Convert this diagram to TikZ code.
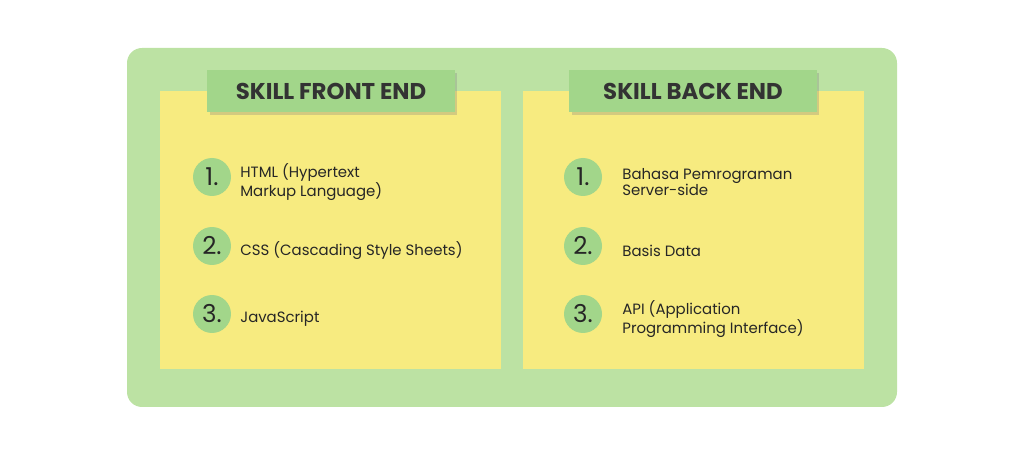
\documentclass[tikz,border=0pt]{standalone}
\usepackage{fontspec}
\setmainfont{Poppins}
\usetikzlibrary{positioning,shadows}
\definecolor{outergreen}{HTML}{BCE2A3}
\definecolor{headgreen}{HTML}{A2D68A}
\definecolor{noteyellow}{HTML}{F7EB80}
\definecolor{inkdark}{HTML}{333333}

\begin{document}
\begin{tikzpicture}[
    x=0.02cm, y=-0.02cm,
    panel/.style={fill=noteyellow, draw=none},
    header/.style={rectangle, fill=headgreen, minimum width=4.96cm, minimum height=0.84cm, font=\fontsize{13}{15}\selectfont\bfseries, text=inkdark, drop shadow={opacity=0.3, shadow xshift=0.05cm, shadow yshift=-0.06cm}},
    num/.style={circle, fill=headgreen, minimum size=0.76cm, inner sep=0pt, font=\fontsize{14}{16}\selectfont, text=black!85},
    item/.style={anchor=west, inner sep=0pt, yshift=-0.1cm, align=left, font=\fontsize{8.5}{9.6}\selectfont, text=black!85}
]
\useasboundingbox (0,0) rectangle (1024,455);
% background
\fill[outergreen, rounded corners=0.3cm] (127,48) rectangle (897,407);

% panels
\fill[panel] (160,91) rectangle (501,369);
\fill[panel] (523,91) rectangle (864,369);

% headers
\node[header] (hfront) at (331,91) {SKILL FRONT END};
\node[header] (hback) at (693,91) {SKILL BACK END};

% front end items
\node[num] (f1) at (212,177) {1.};
\node[num] (f2) at (212,246) {2.};
\node[num] (f3) at (212,314) {3.};
\node[item] (tf1) at (240,0 |- f1) {HTML (Hypertext\\Markup Language)};
\node[item] (tf2) at (240,0 |- f2) {CSS (Cascading Style Sheets)};
\node[item] (tf3) at (240,0 |- f3) {JavaScript};

% back end items
\node[num] (b1) at (583,177) {1.};
\node[num] (b2) at (583,246) {2.};
\node[num] (b3) at (583,314) {3.};
\node[item] (tb1) at (622,0 |- b1) {Bahasa Pemrograman\\Server-side};
\node[item] (tb2) at (622,0 |- b2) {Basis Data};
\node[item] (tb3) at (622,0 |- b3) {API (Application\\Programming Interface)};
\end{tikzpicture}
\end{document}
